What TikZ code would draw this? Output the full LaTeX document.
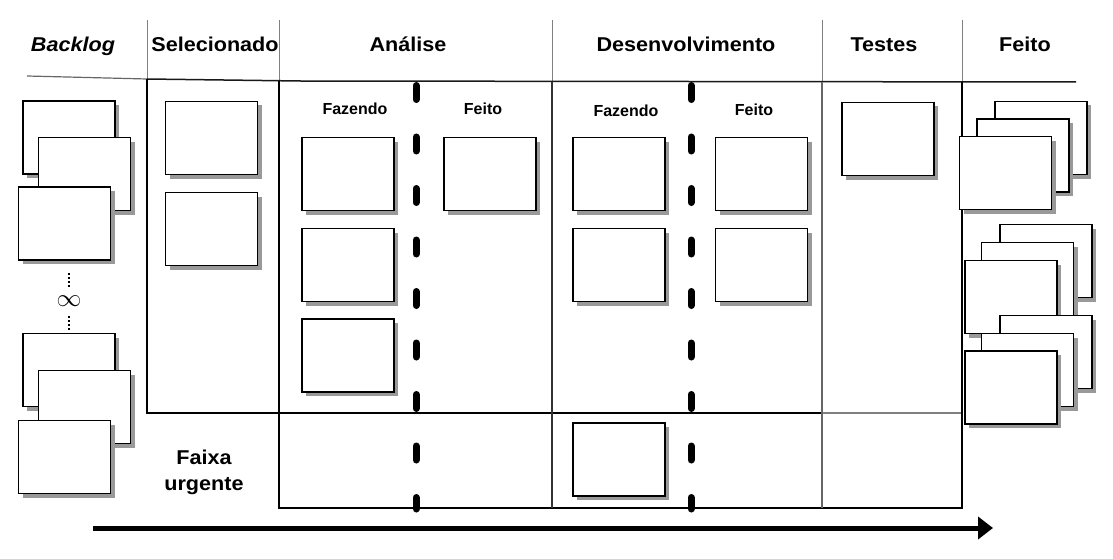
\documentclass[tikz,border=0pt]{standalone}
\usepackage{fontspec}
\setmainfont{Liberation Sans}
\newfontfamily\headfont[FakeStretch=1.08]{Liberation Sans}
\usetikzlibrary{shadows,arrows.meta}
\begin{document}
\begin{tikzpicture}[x=1pt,y=-1pt,
 card/.style={draw=black, line width=1.2pt, fill=white, inner sep=0pt,
   minimum width=92pt, minimum height=73pt,
   drop shadow={shadow xshift=4pt, shadow yshift=-4pt, fill=black!40, opacity=1}},
 head/.style={font=\headfont\bfseries\fontsize{20}{24}\selectfont, inner sep=0pt, anchor=base},
 sub/.style={font=\bfseries\fontsize{16}{19}\selectfont, inner sep=0pt, anchor=base},
 sep/.style={draw=black!50, line width=1pt},
 frame/.style={draw=black, line width=1.6pt},
 lane/.style={line width=7pt, line cap=round, dash pattern=on 14pt off 37.5pt},
 dots/.style={line width=1.6pt, dash pattern=on 1.6pt off 2.4pt},
]
\useasboundingbox (0,0) rectangle (1113,559);

% header separators
\draw[sep] (147,20) -- (147,79);
\draw[sep] (279,20) -- (279,81);
\draw[sep] (552,20) -- (552,82);
\draw[sep] (822,20) -- (822,82);
\draw[sep] (962,20) -- (962,82);

% header line
\draw[line width=1.2pt, black!60] (27,76) -- (147,79);
\draw[line width=1.5pt, black!90] (147,79) -- (300,81) -- (1076,82);

% body lines
\draw[frame] (147,79) -- (147,413) -- (822,413);
\draw[sep, line width=1.1pt] (822,413) -- (962,413);
\draw[frame] (279,81) -- (279,508) -- (962,508) -- (962,82);
\draw[draw=black!80, line width=1.2pt] (552,82) -- (552,508);
\draw[draw=black!60, line width=1.2pt] (822,82) -- (822,508);

% lane separators
\draw[lane] (416,85.5) -- (416,509);
\draw[lane] (691,85.5) -- (691,509);

% headers
\node[head] (hBacklog) at (73,51.5) {\itshape Backlog};
\node[head] (hSel) at (215,51.5) {Selecionado};
\node[head] (hAna) at (408,51.5) {Análise};
\node[head] (hDes) at (686,51.5) {Desenvolvimento};
\node[head] (hTes) at (884,51.5) {Testes};
\node[head] (hFei) at (1025,51.5) {Feito};

\node[sub] (aFaz) at (355,115) {Fazendo};
\node[sub] (aFei) at (483,114.5) {Feito};
\node[sub] (dFaz) at (626,116.5) {Fazendo};
\node[sub] (dFei) at (754,116) {Feito};

\node[head, align=center, font=\headfont\bfseries\fontsize{20}{26}\selectfont] (urg) at (204,490) {Faixa\\urgente};

% backlog cards
\node[card] (b1) at (69,137.5) {};
\node[card] (b2) at (84.5,174) {};
\node[card] (b3) at (64.5,223.5) {};
\node[card] (b4) at (69,370) {};
\node[card] (b5) at (84.5,407) {};
\node[card] (b6) at (64.5,457) {};

% infinity
\node[inner sep=0pt, font=\fontsize{24}{24}\selectfont] (inf) at (69,301) {$\infty$};
\coordinate (d1a) at (69,273);
\coordinate (d1b) at (69,288);
\coordinate (d2a) at (69,316);
\coordinate (d2b) at (69,331);
\draw[dots] (d1a) -- (d1b);
\draw[dots] (d2a) -- (d2b);

% selecionado
\node[card] (s1) at (211.5,138) {};
\node[card] (s2) at (211.5,229) {};

% analise
\node[card] (af1) at (348,174) {};
\node[card] (af2) at (348,265) {};
\node[card] (af3) at (348,355.5) {};
\node[card] (ad1) at (490,174) {};

% desenvolvimento
\node[card] (df1) at (619,174) {};
\node[card] (df2) at (619,265) {};
\node[card] (dd1) at (761.5,174) {};
\node[card] (dd2) at (761.5,265) {};
\node[card] (du) at (619,459.5) {};

% testes
\node[card] (t1) at (888,139) {};

% feito stacks
\node[card] (f1a) at (1041,138) {};
\node[card] (f1b) at (1023,155.5) {};
\node[card] (f1c) at (1005.5,173) {};

\node[card] (f2a) at (1046,261) {};
\node[card] (f2b) at (1027.5,279) {};
\node[card] (f2c) at (1011,297) {};

\node[card] (f3a) at (1046,352) {};
\node[card] (f3b) at (1027.5,370) {};
\node[card] (f3c) at (1011,387.5) {};

% flow arrow
\coordinate (arrS) at (93,528);
\coordinate (arrE) at (993,528);
\draw[line width=5pt, -{Triangle[length=15pt, width=22pt]}] (arrS) -- (arrE);
\end{tikzpicture}
\end{document}
